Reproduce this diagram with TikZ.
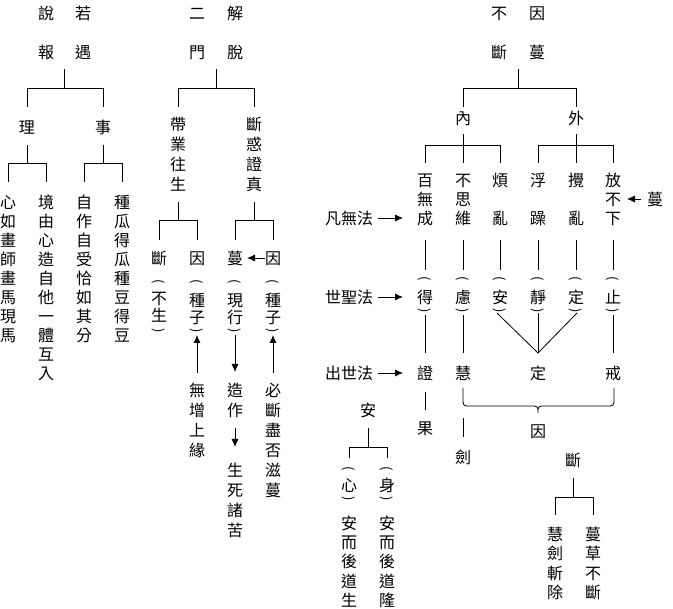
\documentclass[tikz,border=0pt]{standalone}
\usepackage{fontspec}
\newfontfamily\cjk{Noto Sans CJK TC}
\usetikzlibrary{calc,arrows.meta}
\tikzset{
 ch/.style={inner sep=0pt, text height=12.16pt, text depth=0pt, minimum height=16pt, minimum width=16pt, font=\cjk\fontsize{16pt}{16pt}\selectfont},
 par/.style={inner sep=0pt, rotate=-90, font=\cjk\fontsize{13pt}{13pt}\selectfont},
 ln/.style={line width=0.8pt, draw=black},
 arr/.style={ln, -{Latex[length=8pt,width=7pt]}},
}
\newcommand\chcol[3]{\foreach \yy/\myc [count=\i] in {#3}{\node[ch] (#1\i) at (#2,\yy) {\myc};}}
\newcommand\parpair[4]{\node[par] (#1L) at (#2,#3) {(}; \node[par] (#1R) at (#2,#4) {)};}
\newcommand\tfork[6]{\draw[ln] (#1 |- 0,#2) -- (#1 |- 0,#3); \draw[ln] (#4 |- 0,#6) -- (#4 |- 0,#3) -- (#5 |- 0,#3) -- (#5 |- 0,#6);}
\begin{document}
\begin{tikzpicture}[x=1pt,y=-1pt]
\useasboundingbox (0,0) rectangle (673,609);
% ---------- left tree
\node[ch] (shuo) at (46,13) {說}; \node[ch] (ruo) at (83,13) {若};
\node[ch] (bao) at (46,52) {報}; \node[ch] (yu) at (83,52) {遇};
\node[ch] (li) at (27,127) {理}; \node[ch] (shi) at (103,127) {事};
\chcol{a}{8}{202/心,221/如,240/畫,259/師,278/畫,297/馬,316/現,335/馬}
\chcol{b}{46}{202/境,221/由,240/心,259/造,278/自,297/他,316/一,335/體,354/互,373/入}
\chcol{c}{84}{202/自,221/作,240/自,259/受,278/恰,297/如,316/其,335/分}
\chcol{d}{122}{202/種,221/瓜,240/得,259/瓜,278/種,297/豆,316/得,335/豆}
\coordinate (Lp) at ($(bao)!.5!(yu)$);
\tfork{Lp}{69}{88}{li}{shi}{107}
\tfork{li}{145}{163}{a1}{b1}{182}
\tfork{shi}{145}{163}{c1}{d1}{182}
% ---------- middle tree
\node[ch] (er) at (197,13) {二}; \node[ch] (jie) at (235,13) {解};
\node[ch] (men) at (197,52) {門}; \node[ch] (tuo) at (235,52) {脫};
\chcol{e}{178}{124/帶,144/業,164/往,184/生}
\chcol{f}{254}{124/斷,144/惑,164/證,184/真}
\chcol{g}{159}{258/斷,298/不,315/生}
\chcol{h}{197}{258/因,300/種,317/子}
\chcol{i}{235}{258/蔓,300/現,317/行}
\chcol{j}{273}{258/因,300/種,317/子}
\parpair{g}{159}{282}{331}
\parpair{h}{197}{282}{331}
\parpair{i}{235}{282}{331}
\parpair{j}{273}{282}{331}
\chcol{k}{197}{390/無,410/增,430/上,450/緣}
\chcol{l}{235}{390/造,410/作}
\chcol{m}{235}{470/生,490/死,510/諸,530/苦}
\chcol{n}{273}{390/必,410/斷,430/盡,450/否,470/滋,490/蔓}
\coordinate (Mp) at ($(men)!.5!(tuo)$);
\tfork{Mp}{69}{88}{e1}{f1}{107}
\tfork{e4}{202}{220}{g1}{h1}{240}
\tfork{f4}{202}{220}{i1}{j1}{240}
\draw[arr] (j1.west) -- ($(i1)+(12,0)$);
\draw[arr] ($(k1)+(0,-17)$) -- ($(hR)+(0,4)$);
\draw[arr] ($(iR)+(0,4)$) -- ($(l1)+(0,-18)$);
\draw[arr] ($(l2)+(0,18)$) -- ($(m1)+(0,-23)$);
\draw[arr] ($(n1)+(0,-17)$) -- ($(jR)+(0,4)$);
% ---------- right tree
\node[ch] (buT) at (499,13) {不}; \node[ch] (yinT) at (537,13) {因};
\node[ch] (duanT) at (499,52) {斷}; \node[ch] (manT) at (537,52) {蔓};
\node[ch] (nei) at (463,118) {內}; \node[ch] (wai) at (576,118) {外};
\chcol{p}{425}{180/百,199/無,218/成,297/得,373/證,428/果}
\chcol{q}{463}{180/不,199/思,218/維,297/慮,373/慧,457/劍}
\chcol{r}{500}{180/煩,218/亂,297/安}
\chcol{s}{538}{180/浮,218/躁,297/靜,373/定,431/因}
\chcol{t}{576}{180/攪,218/亂,297/定}
\chcol{u}{613}{180/放,199/不,218/下,297/止,373/戒}
\foreach \cc/\xx in {p/425,q/463,r/500,s/538,t/576,u/613}{\parpair{\cc}{\xx}{279}{311}}
\coordinate (Rp) at ($(duanT)!.5!(manT)$);
\tfork{Rp}{69}{88}{nei}{wai}{107}
\tfork{nei}{134}{145}{p1}{r1}{163}
\draw[ln] (q1 |- 0,145) -- (q1 |- 0,163);
\tfork{wai}{134}{145}{s1}{u1}{163}
\draw[ln] (t1 |- 0,145) -- (t1 |- 0,163);
\foreach \nd in {p3,q3,r2,s2,t2,u3}{\draw[ln] ($(\nd)+(0,22)$) -- ($(\nd)+(0,52)$);}
\draw[ln] ($(pR)+(0,4)$) -- ($(p5)+(0,-20)$);
\draw[ln] ($(qR)+(0,4)$) -- ($(q5)+(0,-20)$);
\draw[ln] ($(uR)+(0,4)$) -- ($(u5)+(0,-20)$);
\draw[ln] ($(rR)+(-3,2)$) -- ($(s4)+(0,-20)$) -- ($(tR)+(1,2)$);
\draw[ln] ($(sR)+(0,2)$) -- ($(s4)+(0,-20)$);
\node[ch] (fanwu) at (349,218) {凡無法};
\node[ch] (shisheng) at (349,297) {世聖法};
\node[ch] (chushi) at (349,373) {出世法};
\draw[arr] ($(fanwu.east)+(5,0)$) -- ($(p3)+(-22,0)$);
\draw[arr] ($(shisheng.east)+(5,0)$) -- ($(p4)+(-22,0)$);
\draw[arr] ($(chushi.east)+(5,0)$) -- ($(p5)+(-22,0)$);
\node[ch] (manR) at (655,199) {蔓};
\draw[arr] ($(manR)+(-14,0)$) -- ($(u2)+(14,0)$);
% brace
\coordinate (brL) at ($(q5)+(0,15)$);
\coordinate (brR) at ($(u5)+(1,15)$);
\coordinate (brM) at ($(s4)+(0,40)$);
\draw[ln] (brL) -- ($(brL)+(0,10)$) .. controls ($(brL)+(0,18)$) .. ($(brL)+(8,18)$) -- ($(brM)+(-8,-7)$) .. controls ($(brM)+(0,-7)$) .. (brM) .. controls ($(brM)+(0,-7)$) .. ($(brM)+(8,-7)$) -- ($(brR)+(-8,18)$) .. controls ($(brR)+(0,18)$) .. ($(brR)+(0,10)$) -- (brR);
\draw[ln] ($(p5)+(0,19)$) -- ($(p6)+(0,-18)$);
\draw[ln] ($(q5)+(0,45)$) -- ($(q6)+(0,-20)$);
% bottom right
\node[ch] (duanB) at (573,460) {斷};
\chcol{v}{555}{534/慧,553.5/劍,573/斬,592.5/除}
\chcol{w}{593}{534/蔓,553.5/草,573/不,592.5/斷}
\tfork{duanB}{478}{497}{v1}{w1}{515}
% bottom middle
\node[ch] (anB) at (368,410) {安};
\chcol{x}{349}{485/心,523/安,542/而,561.5/後,581/道,600/生}
\chcol{y}{387}{485/身,523/安,542/而,561.5/後,581/道,600/隆}
\parpair{x}{349}{469}{499}
\parpair{y}{387}{469}{499}
\tfork{anB}{428}{447}{xL}{yL}{458}
\end{tikzpicture}
\end{document}
